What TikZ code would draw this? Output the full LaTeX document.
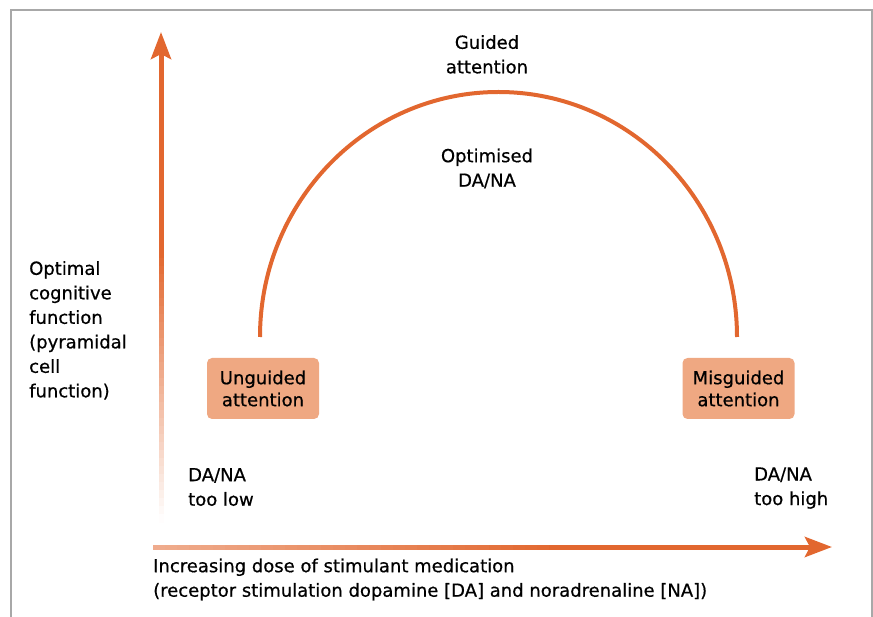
\documentclass[tikz,border=0pt]{standalone}
\usepackage{fontspec}
\setmainfont{DejaVu Sans}[FakeBold=0.6]
\usetikzlibrary{arrows.meta}
\definecolor{curveorange}{HTML}{E2672F}
\definecolor{boxsalmon}{HTML}{EFA882}
\definecolor{framegray}{HTML}{A8A8A8}
\tikzset{
	lbl/.style={inner sep=0pt,align=left,font=\fontsize{18}{24.5}\selectfont},
	attbox/.style={fill=boxsalmon,rounded corners=5pt,minimum width=112pt,minimum height=61pt,inner sep=0pt,align=center,font=\fontsize{18}{22}\selectfont},
	axisline/.style={curveorange,line width=5pt},
	axistip/.style={-{Stealth[length=27pt,width=20pt,inset=5pt]}}
}

\begin{document}
\begin{tikzpicture}[x=1pt,y=-1pt]
			\useasboundingbox (0,0) rectangle (873,617);
			\draw[framegray,line width=1.2pt] (11,617) -- (11,10) -- (872,10) -- (872,617);
			\coordinate (ytip) at (161,32);
			\coordinate (yfade) at (161,251);
			\coordinate (xtip) at (832,547);
			\coordinate (xfade) at (560,547);
			\coordinate (arcL) at (260,337);
			\foreach \i [evaluate=\i as \pct using int(100-3*\i)] in {0,...,33} \draw[axisline,curveorange!\pct] (161,250+8*\i) -- (161,259+8*\i);
			\draw[axisline,axistip] (yfade) -- (ytip);
			\foreach \i [evaluate=\i as \pct using int(55+1.37*\i)] in {0,...,33} \draw[axisline,curveorange!\pct] (153+12*\i,547) -- (166+12*\i,547);
			\draw[axisline,axistip] (xfade) -- (xtip);
			\draw[curveorange,line width=4pt] (arcL) arc[start angle=180,end angle=360,x radius=238.5,y radius=245] coordinate (arcR);
			\node[attbox] (unguided) at (263,388.5) {\raisebox{-2pt}{Unguided}\\\raisebox{-2pt}{attention}};
			\node[attbox] (misguided) at (738.5,388.5) {\raisebox{-2pt}{Misguided}\\\raisebox{-2pt}{attention}};
			\node[lbl,align=center,anchor=base] (guided) at (487,73.3) {Guided\\attention};
			\node[lbl,align=center,anchor=base] (optimised) at (487,186.7) {Optimised\\DA/NA};
			\node[lbl,anchor=base west] (ylabel) at (29,397.3) {Optimal\\cognitive\\function\\(pyramidal\\cell\\function)};
			\node[lbl,anchor=base west] (toolow) at (188,505.7) {DA/NA\\too low};
			\node[lbl,anchor=base west] (toohigh) at (754,505) {DA/NA\\too high};
			\node[lbl,anchor=base west] (xlabel) at (153,596.7) {Increasing dose of stimulant medication\\(receptor stimulation dopamine [DA] and noradrenaline [NA])};
		\end{tikzpicture}
\end{document}
